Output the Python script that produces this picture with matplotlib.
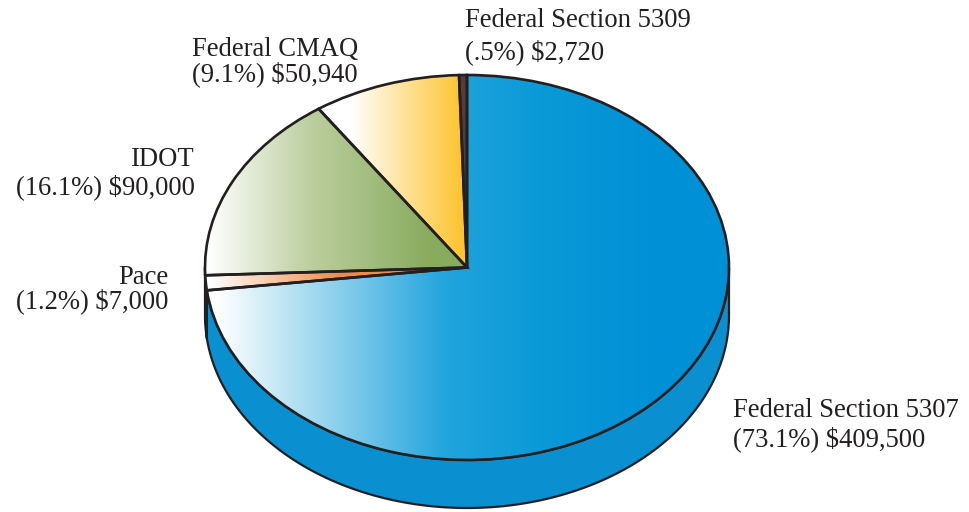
import numpy as np
import matplotlib
matplotlib.use('Agg')
import matplotlib.pyplot as plt
from matplotlib.colors import to_rgb
from matplotlib.patches import Polygon

# ---- data ----
categories = ['Federal Section 5307', 'Pace', 'IDOT', 'Federal CMAQ', 'Federal Section 5309']
values = [409500, 7000, 90000, 50940, 2720]
value_labels = ['(73.1%) $409,500', '(1.2%) $7,000', '(16.1%) $90,000',
                '(9.1%) $50,940', '(.5%) $2,720']

# ---- style ----
side_colors = ['#0a8fd1', '#d9733a', '#6f8f48', '#e0a820', '#4a2d2d']
# gradient stops: (pixel x, colour)
grad_stops = [
    [(218, '#ffffff'), (445, '#22a4dc'), (540, '#0a9ad8'), (660, '#0090d5')],
    [(210, '#ffffff'), (340, '#ef8c47')],
    [(208, '#ffffff'), (310, '#bccf9f'), (430, '#88ab5e')],
    [(350, '#ffffff'), (462, '#fdc42e')],
    [(0, '#5b3a3a'), (10, '#5b3a3a')],
]
EC = '#231f20'
W, H = 970, 512
CX, CY, RX, RY = 467, 267.5, 262, 192.5
DEPTH = 48 / RY

def px2x(px):
    return (px - CX) / RX

fig = plt.figure(figsize=(W / 100, H / 100), dpi=100)
ax = fig.add_axes([0, 0, 1, 1])

wedges, _ = ax.pie(values, startangle=90, counterclock=False, radius=1,
                   center=(0, 0),
                   wedgeprops=dict(facecolor='none', edgecolor=EC,
                                   linewidth=1.9, zorder=4))

xlim = (px2x(0), px2x(W))
ylim = ((CY - H) / RY, CY / RY)

# side band (visible lower half)
for w, sc in zip(wedges, side_colors):
    t1, t2 = w.theta1, w.theta2
    for k in (-360, 0, 360):
        a, b = max(t1 + k, -180), min(t2 + k, 0)
        if b > a:
            t = np.radians(np.linspace(a, b, 200))
            top = np.column_stack([np.cos(t), np.sin(t)])
            bot = np.column_stack([np.cos(t[::-1]), np.sin(t[::-1]) - DEPTH])
            poly = Polygon(np.vstack([top, bot]), closed=True, facecolor=sc,
                           edgecolor=EC, linewidth=1.6, zorder=1)
            ax.add_patch(poly)

# gradient fills for top face
xs = np.linspace(xlim[0], xlim[1], 1500)
for w, stops in zip(wedges, grad_stops):
    sx = np.array([px2x(p) for p, _ in stops])
    sc = np.array([to_rgb(c) for _, c in stops])
    row = np.column_stack([np.interp(xs, sx, sc[:, i]) for i in range(3)])
    img = np.stack([row, row])
    im = ax.imshow(img, extent=[xlim[0], xlim[1], ylim[0], ylim[1]],
                   aspect='auto', interpolation='bilinear', zorder=2,
                   origin='lower')
    im.set_clip_path(w)

ax.set_aspect('auto')
ax.set_xlim(*xlim)
ax.set_ylim(*ylim)
ax.axis('off')

# labels
FONT = 'Liberation Serif'
FS = 19.2
def label(px, py, s, ha='left'):
    fig.text(px / W, 1 - py / H, s, ha=ha, va='baseline', fontsize=FS,
             family=FONT, color=EC)

label(733, 417, categories[0]); label(733, 446, value_labels[0])
label(168, 284, categories[1], 'right'); label(168, 308, value_labels[1], 'right')
label(195, 166, categories[2], 'right'); label(195, 194, value_labels[2], 'right')
label(192, 56, categories[3]); label(192, 81, value_labels[3])
label(465, 27, categories[4]); label(465, 59, value_labels[4])

fig.savefig('out.png', dpi=100)
